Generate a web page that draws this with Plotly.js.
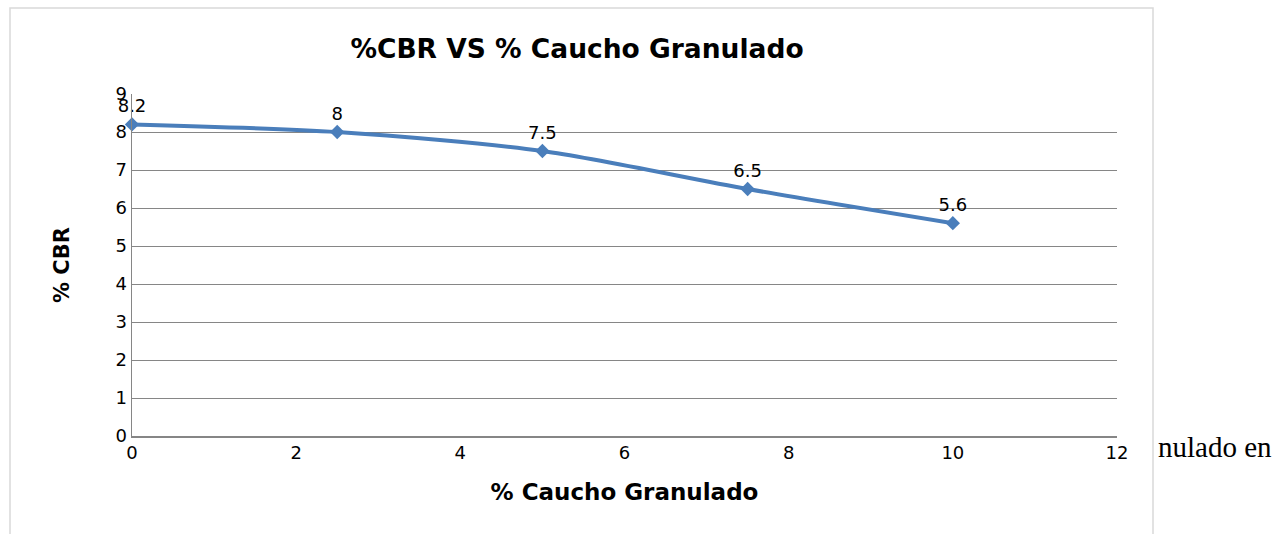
<!DOCTYPE html>
<html><head><meta charset="utf-8">
<script src="https://cdn.plot.ly/plotly-3.0.1.min.js"></script>
<style>html,body{margin:0;padding:0;background:#fff;}#c{width:1278px;height:534px;}</style>
</head><body><div id="c"></div>
<script>
const xCaucho = [0, 2.5, 5, 7.5, 10];
const yCBR = [8.2, 8, 7.5, 6.5, 5.6];
const labels = ['8.2', '8', '7.5', '6.5', '5.6'];
const xTicks = [0, 2, 4, 6, 8, 10, 12];
const yTicks = [0, 1, 2, 3, 4, 5, 6, 7, 8, 9];

const font = 'DejaVu Sans, sans-serif';
const trace = {
  x: xCaucho, y: yCBR, mode: 'lines+markers+text', type: 'scatter',
  text: labels, textposition: 'top center',
  textfont: {family: font, size: 18, color: '#000'},
  line: {color: '#4a7ebb', width: 4, shape: 'spline', smoothing: 0.8},
  marker: {symbol: 'diamond', size: 11, color: '#4a7ebb'},
  cliponaxis: false, hoverinfo: 'none'
};
const W = 985, H = 342;
const layout = {
  width: 1278, height: 534,
  margin: {l: 132, r: 161, t: 94, b: 98},
  paper_bgcolor: '#fff', plot_bgcolor: '#fff',
  showlegend: false,
  title: {text: '<b>%CBR VS % Caucho Granulado</b>', font: {family: font, size: 26.5, color: '#000'},
          x: 577/1278, xanchor: 'center', y: 1-49/534, yanchor: 'middle'},
  xaxis: {range: [0, 12], tickvals: xTicks, ticktext: xTicks.map(String), showgrid: false, zeroline: false,
          showline: true, linecolor: '#868686', linewidth: 1.5, ticks: '', ticklen: 0,
          tickfont: {family: font, size: 18, color: '#000'},
          title: {text: '<b>% Caucho Granulado</b>', font: {family: font, size: 23, color: '#000'}, standoff: 22}},
  yaxis: {range: [0, 9], tickvals: yTicks, ticktext: yTicks.map(String), showgrid: true, gridcolor: '#868686', gridwidth: 1,
          zeroline: false, showline: true, linecolor: '#868686', linewidth: 1.5, ticks: '',
          tickfont: {family: font, size: 18, color: '#000'},
          title: {text: '<b>% CBR</b>', font: {family: font, size: 21, color: '#000'}, standoff: 40}},
  shapes: [{type: 'rect', xref: 'paper', yref: 'paper',
            x0: (10-132)/W, x1: (1153-132)/W, y0: (436-545)/H, y1: (436-8)/H,
            line: {color: '#d9d9d9', width: 1.5}, fillcolor: 'rgba(0,0,0,0)', layer: 'below'}],
  annotations: [{xref: 'paper', yref: 'paper', x: (1156-132)/W, y: (436-447)/H, xanchor: 'left', yanchor: 'middle',
                 text: 'nulado en', showarrow: false,
                 font: {family: 'Liberation Serif, Times New Roman, serif', size: 29, color: '#000'}}]
};
Plotly.newPlot('c', [trace], layout, {staticPlot: true, displayModeBar: false});
</script></body></html>
